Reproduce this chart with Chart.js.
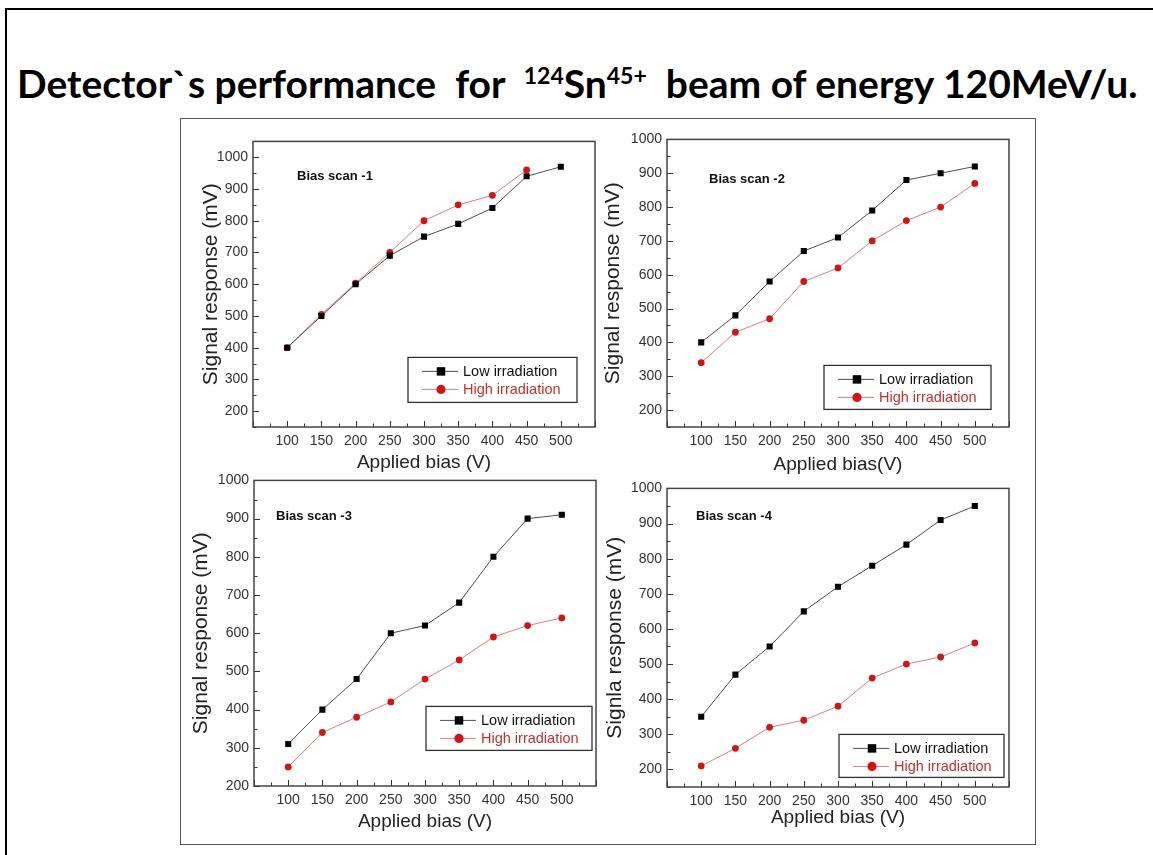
<!DOCTYPE html>
<html>
<head>
<meta charset="utf-8">
<script src="https://cdn.jsdelivr.net/npm/chart.js@4.4.1/dist/chart.umd.min.js"></script>
<style>
  html, body { margin: 0; padding: 0; background: #fff; }
  body { width: 1153px; height: 855px; position: relative; overflow: hidden; }
  #slide { position: absolute; left: 5px; top: 8px; width: 1200px; height: 900px;
           border-top: 2.5px solid #000; border-left: 2.5px solid #000; }
  #heading { position: absolute; left: 17px; top: 64px; font-family: Lato, sans-serif; font-weight: 700;
             font-size: 39px; line-height: 1; white-space: pre; color: #000; }
  #heading sup { font-size: 23px; vertical-align: 14px; line-height: 0; }
  #figure { position: absolute; left: 180px; top: 118px; width: 856px; height: 727px;
            box-sizing: border-box; border: 1.5px solid #555; }
  canvas { position: absolute; }
</style>
</head>
<body>
<div id="slide"></div>
<div id="heading">Detector`s performance  for  <sup>124</sup>Sn<sup>45+</sup>  beam of energy 120MeV/u.</div>
<div id="figure"></div>
<script>
// applied bias (V)
const biasV = [100, 150, 200, 250, 300, 350, 400, 450, 500];
const xTicks = [100, 150, 200, 250, 300, 350, 400, 450, 500];
const yTicks = [200, 300, 400, 500, 600, 700, 800, 900, 1000];

// signal response (mV), one pair per bias scan
const lowScan1 = [400, 500, 600, 690, 750, 790, 840, 940, 970];
const highScan1 = [400, 505, 603, 700, 800, 850, 880, 960];
const lowScan2 = [400, 480, 580, 670, 710, 790, 880, 900, 920];
const highScan2 = [340, 430, 470, 580, 620, 700, 760, 800, 870];
const lowScan3 = [310, 400, 480, 600, 620, 680, 800, 900, 910];
const highScan3 = [250, 340, 380, 420, 480, 530, 590, 620, 640];
const lowScan4 = [350, 470, 550, 650, 720, 780, 840, 910, 950];
const highScan4 = [210, 260, 320, 340, 380, 460, 500, 520, 560];

const scanNames = ['Bias scan -1', 'Bias scan -2', 'Bias scan -3', 'Bias scan -4'];
const seriesNames = ['Low irradiation', 'High irradiation'];
const yTitles = ['Signal response (mV)', 'Signal response (mV)', 'Signal response (mV)', 'Signla response (mV)'];
const xTitles = ['Applied bias (V)', 'Applied bias(V)', 'Applied bias (V)', 'Applied bias (V)'];
const xRange = [50, 550];
const yMins = [150, 150, 200, 150];
const yMaxs = [1050, 1000, 1000, 1000];

const lowData = [lowScan1, lowScan2, lowScan3, lowScan4];
const highData = [highScan1, highScan2, highScan3, highScan4];

// page layout: plot box [left, top, right, bottom], y axis width, x axis height
const PAD_T = 10, PAD_R = 14;
const panelLayout = [
  { plot: [253, 138, 595, 427], yw: 54, xh: 47, note: [44, 35], legend: [155, 216, 169, 45] },
  { plot: [667, 136, 1009, 427], yw: 66, xh: 49, note: [42, 40], legend: [157, 226, 167, 44] },
  { plot: [254, 477, 596, 786], yw: 65, xh: 47, note: [22, 36], legend: [172, 226, 166, 44] },
  { plot: [667, 485, 1009, 787], yw: 64, xh: 42, note: [29, 28], legend: [172, 246, 165, 43] }
];

const FONT = 'Liberation Sans, Arial, sans-serif';
const lowStyle = { line: '#4d4d4d', point: '#000', text: '#111', pointStyle: 'rect' };
const highStyle = { line: '#e27c7c', point: '#d41414', text: '#c4302b', pointStyle: 'circle' };

function toPoints(values) {
  return values.map((v, k) => ({ x: biasV[k], y: v }));
}

// frame, inward ticks, inset legend and scan label
const panelDecor = {
  id: 'panelDecor',
  beforeDatasetsDraw(chart, args, opts) {
    const ctx = chart.ctx, a = chart.chartArea;
    const xs = chart.scales.x, ys = chart.scales.y;
    ctx.save();
    ctx.strokeStyle = '#333';
    ctx.lineWidth = 1;
    const xStep = (xTicks[1] - xTicks[0]) / 2;
    for (let v = xs.min; v <= xs.max; v += xStep) {
      const px = Math.round(xs.getPixelForValue(v)) + 0.5;
      const len = v % (xStep * 2) === 0 ? 6 : 3.5;
      ctx.beginPath(); ctx.moveTo(px, a.bottom); ctx.lineTo(px, a.bottom - len); ctx.stroke();
    }
    const yStep = (yTicks[1] - yTicks[0]) / 2;
    for (let v = Math.ceil(ys.min / yStep) * yStep; v <= ys.max; v += yStep) {
      const py = Math.round(ys.getPixelForValue(v)) + 0.5;
      const len = v % (yStep * 2) === 0 ? 6 : 3.5;
      ctx.beginPath(); ctx.moveTo(a.left, py); ctx.lineTo(a.left + len, py); ctx.stroke();
    }
    ctx.strokeStyle = '#444';
    ctx.lineWidth = 1.5;
    ctx.strokeRect(a.left, a.top, a.right - a.left, a.bottom - a.top);
    ctx.restore();
  },
  afterDatasetsDraw(chart, args, opts) {
    const ctx = chart.ctx, a = chart.chartArea;
    ctx.save();
    ctx.fillStyle = '#111';
    ctx.font = 'bold 13px ' + FONT;
    ctx.textBaseline = 'middle';
    ctx.fillText(opts.note, a.left + opts.notePos[0], a.top + opts.notePos[1]);

    const [lx, ly, lw, lh] = opts.legendBox;
    const bx = a.left + lx, by = a.top + ly;
    ctx.fillStyle = '#fff';
    ctx.fillRect(bx, by, lw, lh);
    ctx.strokeStyle = '#333';
    ctx.lineWidth = 1.3;
    ctx.strokeRect(bx, by, lw, lh);
    ctx.font = '14.5px ' + FONT;
    [lowStyle, highStyle].forEach((st, k) => {
      const y = by + 14 + k * 18;
      ctx.strokeStyle = st.line;
      ctx.lineWidth = 1;
      ctx.beginPath(); ctx.moveTo(bx + 14, y); ctx.lineTo(bx + 50, y); ctx.stroke();
      ctx.fillStyle = st.point;
      ctx.strokeStyle = st.point;
      Chart.helpers.drawPoint(ctx, { pointStyle: st.pointStyle, radius: st.pointStyle === 'rect' ? 6 : 4.6, rotation: 0, borderWidth: 0 }, bx + 33, y);
      ctx.fillStyle = st.text;
      ctx.fillText(chart.data.datasets[k].label, bx + 55, y + 1);
    });
    ctx.restore();
  }
};

function makeChart(i) {
  const L = panelLayout[i];
  const [pl, pt, pr, pb] = L.plot;
  const canvas = document.createElement('canvas');
  canvas.width = pr - pl + L.yw + PAD_R;
  canvas.height = pb - pt + PAD_T + L.xh;
  canvas.style.left = (pl - L.yw) + 'px';
  canvas.style.top = (pt - PAD_T) + 'px';
  document.body.appendChild(canvas);

  new Chart(canvas, {
    type: 'line',
    data: {
      datasets: [{
        label: seriesNames[0],
        data: toPoints(lowData[i]),
        borderColor: lowStyle.line,
        borderWidth: 1,
        pointStyle: 'rect',
        pointRadius: 4.3,
        pointBackgroundColor: lowStyle.point,
        pointBorderColor: lowStyle.point,
        pointBorderWidth: 0,
        tension: 0
      }, {
        label: seriesNames[1],
        data: toPoints(highData[i]),
        borderColor: highStyle.line,
        borderWidth: 1,
        pointStyle: 'circle',
        pointRadius: 3.4,
        pointBackgroundColor: highStyle.point,
        pointBorderColor: highStyle.point,
        pointBorderWidth: 0,
        tension: 0
      }]
    },
    options: {
      responsive: false,
      animation: false,
      events: [],
      layout: { padding: { top: PAD_T, right: PAD_R, left: 0, bottom: 0 } },
      scales: {
        x: {
          type: 'linear',
          min: xRange[0],
          max: xRange[1],
          afterBuildTicks: s => { s.ticks = xTicks.map(v => ({ value: v })); },
          afterFit: s => { s.height = L.xh; },
          grid: { display: false, drawTicks: false },
          border: { display: false },
          ticks: { padding: 6, color: '#333', maxRotation: 0, autoSkip: false, callback: v => String(v),
                   font: { family: FONT, size: 14 } },
          title: { display: true, text: xTitles[i], color: '#222', padding: 0, font: { family: FONT, size: 19 } }
        },
        y: {
          min: yMins[i],
          max: yMaxs[i],
          afterBuildTicks: s => { s.ticks = yTicks.map(v => ({ value: v })); },
          afterFit: s => { s.width = L.yw; },
          grid: { display: false, drawTicks: false },
          border: { display: false },
          ticks: { padding: 5, color: '#333', autoSkip: false, callback: v => String(v),
                   font: { family: FONT, size: 14 } },
          title: { display: true, text: yTitles[i], color: '#222', padding: 0, font: { family: FONT, size: 21 } }
        }
      },
      plugins: {
        legend: { display: false },
        title: { display: false },
        tooltip: { enabled: false },
        panelDecor: { note: scanNames[i], notePos: L.note, legendBox: L.legend }
      }
    },
    plugins: [panelDecor]
  });
}

for (let i = 0; i < 4; i++) makeChart(i);
</script>
</body>
</html>
